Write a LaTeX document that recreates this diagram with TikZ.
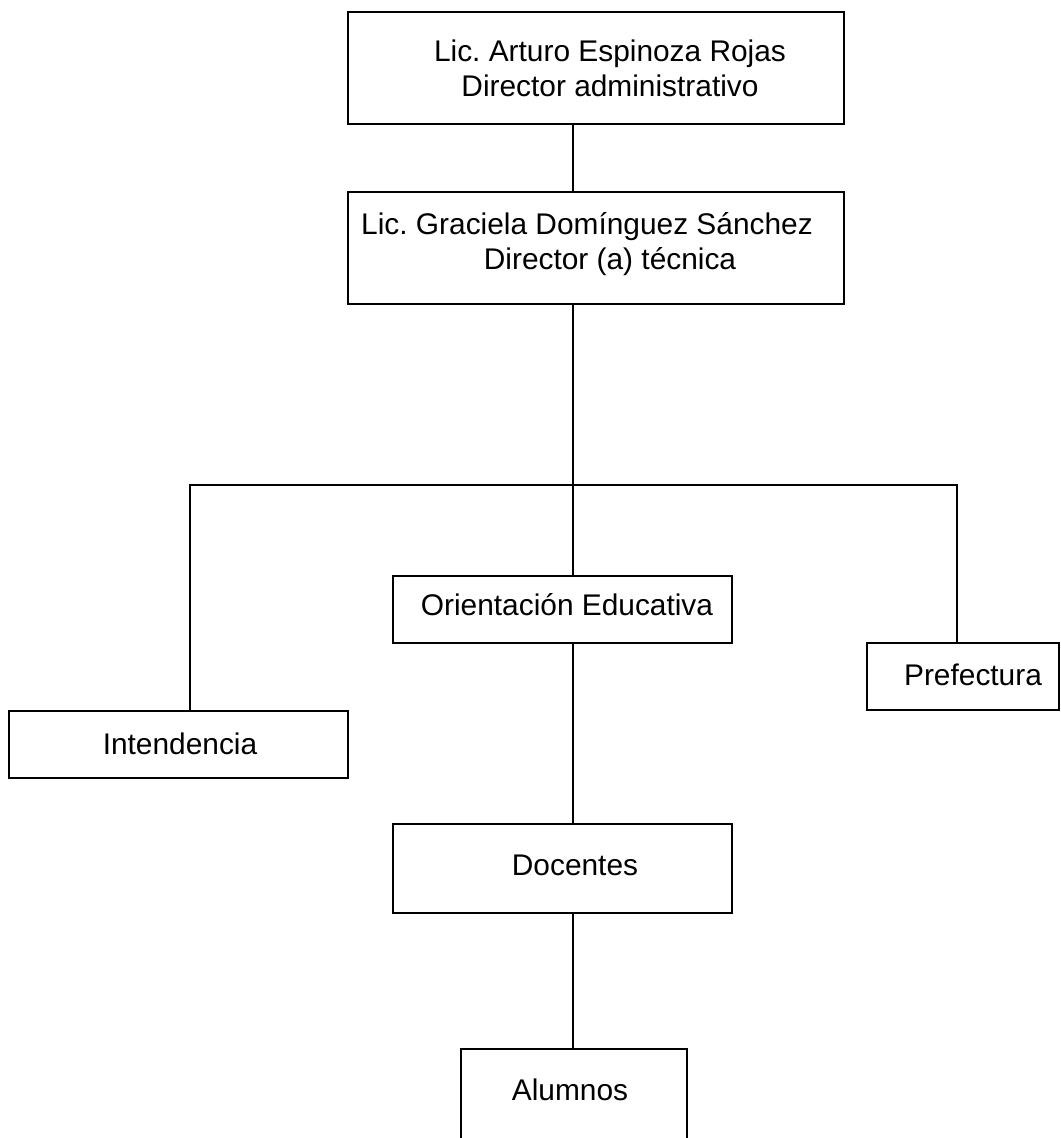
\documentclass[tikz,border=0pt]{standalone}
\usepackage{fontspec}
\setmainfont{Liberation Sans}
\frenchspacing

\begin{document}
\begin{tikzpicture}[
  x=0.75pt,
  y=-0.75pt,
  caja/.style 2 args={draw=black, line width=0.9pt, inner sep=0pt, outer sep=0pt,
    minimum width=#1*0.75pt, minimum height=#2*0.75pt},
  rotulo/.style={anchor=base, inner sep=0pt, font=\fontsize{22.4}{27}\selectfont},
  linea/.style={draw=black, line width=0.9pt}
]
  \path[use as bounding box, clip] (0,0) rectangle (1060,1138);

  % cajas
  \node[caja={496}{112}] (admin) at (596,68) {};
  \node[caja={496}{112}] (tecnica) at (596,248) {};
  \node[caja={339}{67}] (orienta) at (562.5,609.5) {};
  \node[caja={339}{67}] (intend) at (178.5,744.5) {};
  \node[caja={192}{67}] (prefec) at (963,676.5) {};
  \node[caja={339}{89}] (docentes) at (562.5,868.5) {};
  \node[caja={226}{111}] (alumnos) at (574,1104.5) {};

  % textos
  \node[rotulo] (adminA) at (610,62) {Lic. Arturo Espinoza Rojas};
  \node[rotulo] (adminB) at (610,97) {Director administrativo};
  \node[rotulo] (tecnicaA) at (587,234) {Lic. Graciela Domínguez Sánchez};
  \node[rotulo] (tecnicaB) at (610,269) {Director (a) técnica};
  \node[rotulo] (orientaT) at (567,615) {Orientación Educativa};
  \node[rotulo] (intendT) at (180,754) {Intendencia};
  \node[rotulo] (prefecT) at (973,685) {Prefectura};
  \node[rotulo] (docentesT) at (575,875) {Docentes};
  \node[rotulo] (alumnosT) at (570,1100) {Alumnos};

  % conectores
  \coordinate (eje) at (573,485);
  \coordinate (izq) at (190,485);
  \coordinate (der) at (957,485);
  \draw[linea] (admin.south -| eje) -- (tecnica.north -| eje);
  \draw[linea] (tecnica.south -| eje) -- (orienta.north -| eje);
  \draw[linea] (intend.north -| izq) -- (izq) -- (der) -- (prefec.north -| der);
  \draw[linea] (orienta.south -| eje) -- (docentes.north -| eje);
  \draw[linea] (docentes.south -| eje) -- (alumnos.north -| eje);
\end{tikzpicture}
\end{document}
